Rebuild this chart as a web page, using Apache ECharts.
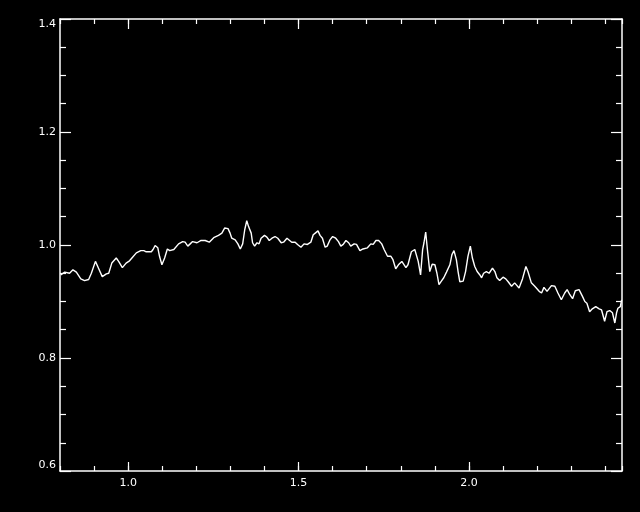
<!DOCTYPE html>
<html>
<head>
<meta charset="utf-8">
<script src="https://cdn.jsdelivr.net/npm/echarts@6/dist/echarts.min.js"></script>
<style>html,body{margin:0;padding:0;background:#000;}#c{width:640px;height:512px;}</style>
</head>
<body>
<div id="c"></div>
<script>
var xValues = [0.802,0.814,0.828,0.838,0.848,0.861,0.872,0.884,0.892,0.904,0.913,0.924,0.936,0.943,0.952,0.965,0.972,0.983,0.994,1.004,1.011,1.024,1.037,1.046,1.053,1.068,1.073,1.079,1.087,1.092,1.099,1.107,1.115,1.122,1.134,1.138,1.148,1.160,1.167,1.175,1.182,1.189,1.202,1.214,1.226,1.238,1.251,1.265,1.275,1.283,1.293,1.299,1.304,1.314,1.322,1.329,1.336,1.342,1.348,1.353,1.361,1.365,1.371,1.378,1.384,1.390,1.400,1.407,1.414,1.422,1.431,1.439,1.449,1.456,1.466,1.472,1.480,1.490,1.497,1.507,1.516,1.526,1.536,1.543,1.549,1.557,1.563,1.570,1.578,1.584,1.592,1.600,1.609,1.617,1.624,1.631,1.639,1.647,1.653,1.663,1.670,1.680,1.689,1.702,1.712,1.719,1.727,1.735,1.744,1.751,1.761,1.771,1.777,1.785,1.793,1.803,1.806,1.815,1.821,1.831,1.841,1.846,1.851,1.858,1.864,1.868,1.873,1.878,1.885,1.892,1.900,1.906,1.912,1.919,1.926,1.934,1.944,1.950,1.956,1.963,1.968,1.973,1.983,1.990,1.997,2.004,2.010,2.017,2.024,2.032,2.037,2.043,2.051,2.059,2.069,2.076,2.082,2.090,2.100,2.108,2.115,2.125,2.134,2.137,2.147,2.157,2.167,2.173,2.183,2.193,2.206,2.213,2.220,2.229,2.242,2.252,2.261,2.271,2.281,2.288,2.296,2.304,2.312,2.323,2.333,2.340,2.346,2.354,2.362,2.372,2.382,2.389,2.398,2.405,2.413,2.421,2.428,2.433,2.437,2.444,2.448];
var yValues = [0.947,0.952,0.950,0.956,0.952,0.940,0.937,0.939,0.950,0.971,0.959,0.944,0.949,0.950,0.968,0.977,0.971,0.960,0.968,0.972,0.977,0.986,0.990,0.990,0.988,0.988,0.992,0.999,0.995,0.980,0.965,0.977,0.993,0.990,0.992,0.995,1.002,1.006,1.005,0.998,1.002,1.006,1.004,1.008,1.008,1.005,1.013,1.017,1.021,1.030,1.029,1.021,1.012,1.009,1.002,0.993,1.002,1.027,1.043,1.033,1.021,1.004,0.998,1.004,1.002,1.012,1.017,1.014,1.008,1.012,1.015,1.012,1.004,1.005,1.012,1.009,1.005,1.005,1.001,0.996,1.002,1.001,1.005,1.018,1.021,1.025,1.017,1.012,0.996,0.998,1.009,1.015,1.012,1.006,0.998,1.001,1.008,1.004,0.998,1.002,1.001,0.990,0.993,0.995,1.002,1.001,1.008,1.008,1.002,0.992,0.980,0.980,0.974,0.958,0.965,0.971,0.974,0.960,0.965,0.988,0.992,0.993,0.971,0.947,0.992,1.004,1.023,0.992,0.953,0.966,0.965,0.950,0.930,0.936,0.942,0.952,0.965,0.983,0.990,0.974,0.953,0.935,0.936,0.953,0.980,0.998,0.977,0.962,0.953,0.947,0.942,0.950,0.953,0.950,0.959,0.953,0.942,0.937,0.943,0.940,0.935,0.927,0.933,0.935,0.924,0.940,0.962,0.953,0.933,0.927,0.918,0.915,0.925,0.918,0.928,0.927,0.915,0.903,0.915,0.921,0.912,0.905,0.919,0.921,0.909,0.900,0.897,0.882,0.887,0.891,0.887,0.885,0.865,0.882,0.884,0.880,0.862,0.880,0.888,0.891,0.903];
var xLabelValues = [1.0, 1.5, 2.0];
var yTickInterval = 0.2;
var xMin = 0.8, xMax = 2.449, yMin = 0.6, yMax = 1.4;

var seriesData = xValues.map(function (x, i) { return [x, yValues[i]]; });
var white = '#ffffff';
var font = { color: white, fontFamily: 'DejaVu Sans', fontSize: 11 };

function xMajor(pos, showLabel, len) {
  return {
    type: 'value', position: pos, min: xMin, max: xMax,
    axisLine: { show: true, onZero: false, lineStyle: { color: white, width: 1.5 } },
    axisTick: { show: true, inside: true, length: len, customValues: xLabelValues, lineStyle: { color: white, width: 1.2 } },
    axisLabel: showLabel ? Object.assign({ show: true, margin: 7, customValues: xLabelValues, formatter: function (v) { return v.toFixed(1); } }, font) : { show: false },
    splitLine: { show: false }
  };
}
function xMinor(pos) {
  return {
    type: 'value', position: pos, min: xMin, max: xMax, interval: 0.1,
    axisLine: { show: false },
    axisTick: { show: true, inside: true, length: 5, lineStyle: { color: white, width: 1.2 } },
    axisLabel: { show: false },
    splitLine: { show: false }
  };
}
function yAxisDef(pos, showLabel) {
  return {
    type: 'value', position: pos, min: yMin, max: yMax, interval: yTickInterval,
    axisLine: { show: true, onZero: false, lineStyle: { color: white, width: 1.5 } },
    axisTick: { show: true, inside: true, length: 11, lineStyle: { color: white, width: 1.2 } },
    minorTick: { show: true, splitNumber: 4, length: 6, lineStyle: { color: white, width: 1.2 } },
    axisLabel: showLabel ? Object.assign({ show: true, margin: 4, formatter: function (v) { return v.toFixed(1); }, verticalAlignMinLabel: 'bottom', verticalAlignMaxLabel: 'top' }, font) : { show: false },
    splitLine: { show: false }
  };
}

var chart = echarts.init(document.getElementById('c'), null, { renderer: 'canvas' });
chart.setOption({
  backgroundColor: '#000000',
  animation: false,
  grid: { left: 60, right: 18, top: 19, bottom: 41, containLabel: false },
  xAxis: [xMajor('bottom', true, 9), xMinor('bottom'), xMajor('top', false, 10), xMinor('top')],
  yAxis: [yAxisDef('left', true), yAxisDef('right', false)],
  series: [{
    type: 'line', xAxisIndex: 0, yAxisIndex: 0,
    data: seriesData, showSymbol: false, symbol: 'none',
    lineStyle: { color: white, width: 1.4 }
  }]
});
</script>
</body>
</html>
